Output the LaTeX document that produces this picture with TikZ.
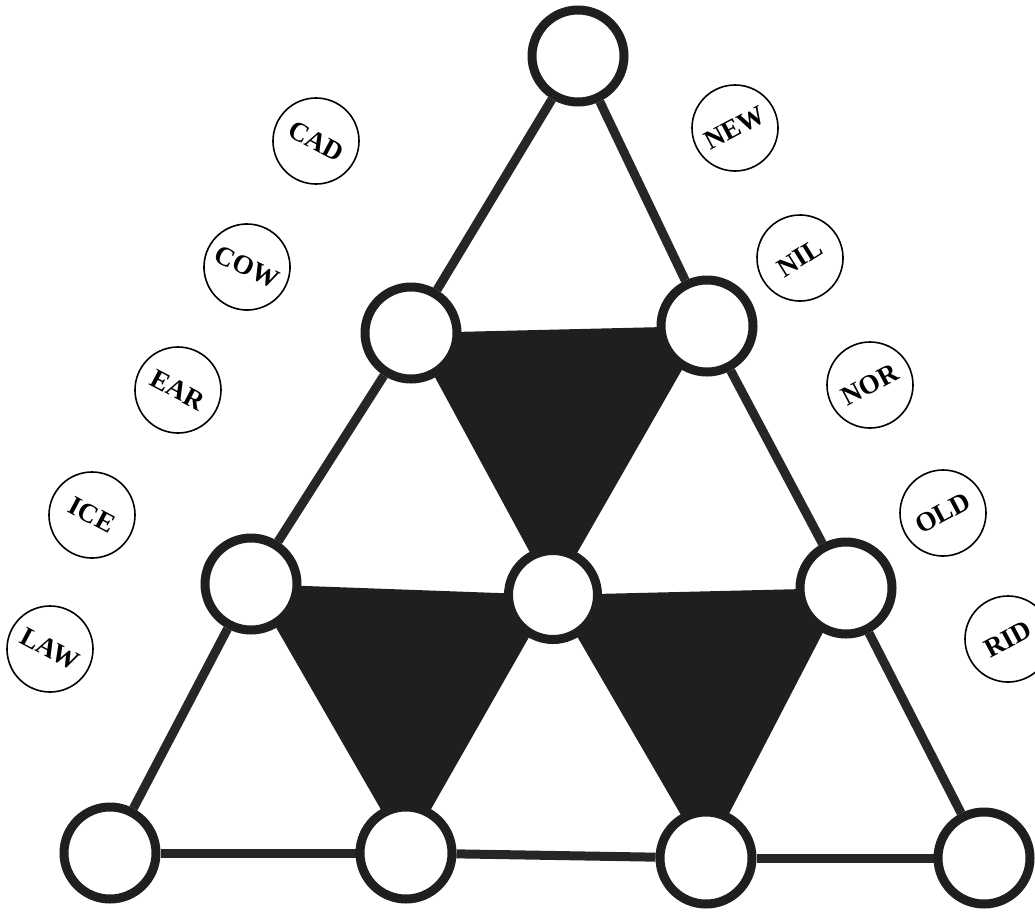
\documentclass[tikz,border=0pt]{standalone}
\usepackage{fontspec}
\setmainfont{Liberation Serif}
\pgfdeclarelayer{background}
\pgfsetlayers{background,main}
\tikzset{
  bignode/.style={circle,draw=black!88,line width=9pt,fill=white,minimum size=92pt,inner sep=0pt},
  midnode/.style={bignode,minimum size=89pt},
  wordnode/.style={circle,draw=black,line width=1.6pt,fill=white,minimum size=86pt,inner sep=0pt,
    font=\bfseries\fontsize{27}{27}\selectfont},
  link/.style={draw=black!85,line width=9pt},
  shade/.style={fill=black!88}
}
\begin{document}
\begin{tikzpicture}[x=1pt,y=-1pt]
\useasboundingbox (0,0) rectangle (1035,911);
\clip (0,0) rectangle (1035,911);
% main circles
\node[bignode] (t)  at (578,56) {};
\node[bignode] (bl) at (411,333) {};
\node[bignode] (br) at (707,326) {};
\node[bignode] (cl) at (251,584) {};
\node[midnode] (cm) at (553,595) {};
\node[bignode] (cr) at (846,588) {};
\node[bignode] (d1) at (110,853) {};
\node[bignode] (d2) at (406,853) {};
\node[bignode] (d3) at (706,858) {};
\node[bignode] (d4) at (984,858) {};
\begin{pgfonlayer}{background}
  \fill[shade] (bl.center) -- (br.center) -- (cm.center) -- cycle;
  \fill[shade] (cl.center) -- (cm.center) -- (d2.center) -- cycle;
  \fill[shade] (cm.center) -- (cr.center) -- (d3.center) -- cycle;
  \draw[link] (t) -- (bl);
  \draw[link] (t) -- (br);
  \draw[link] (bl) -- (cl);
  \draw[link] (br) -- (cr);
  \draw[link] (cl) -- (d1);
  \draw[link] (cr) -- (d4);
  \draw[link] (d1) -- (d2);
  \draw[link] (d2) -- (d3);
  \draw[link] (d3) -- (d4);
\end{pgfonlayer}
% word circles
\node[wordnode,rotate=-28] (cad) at (316,141) {CAD};
\node[wordnode,rotate=-26] (cow) at (247,267) {COW};
\node[wordnode,rotate=-28] (ear) at (178,390) {EAR};
\node[wordnode,rotate=-28] (ice) at (92,515) {ICE};
\node[wordnode,rotate=-28] (law) at (50,649) {LAW};
\node[wordnode,rotate=28] (new) at (735,128) {NEW};
\node[wordnode,rotate=32] (nil) at (800,258) {NIL};
\node[wordnode,rotate=28] (nor) at (870,385) {NOR};
\node[wordnode,rotate=28] (old) at (943,513) {OLD};
\node[wordnode,rotate=28] (rid) at (1008,639) {RID};
\end{tikzpicture}
\end{document}
